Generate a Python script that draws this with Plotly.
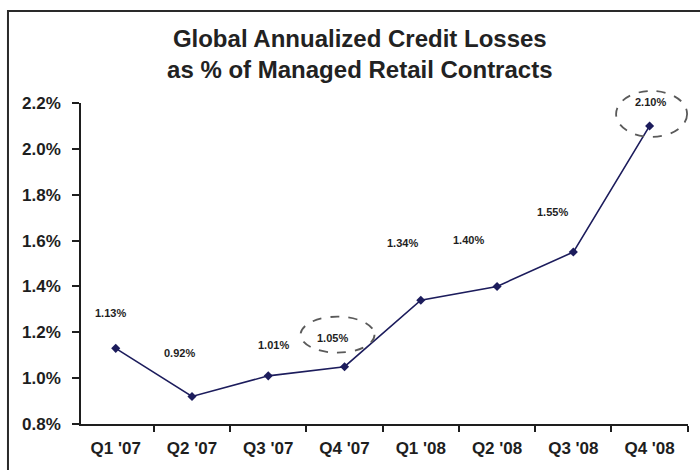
import plotly.graph_objects as go

# Quarterly credit loss rates (% of managed retail contracts)
quarters = ["Q1 '07", "Q2 '07", "Q3 '07", "Q4 '07", "Q1 '08", "Q2 '08", "Q3 '08", "Q4 '08"]
loss_pct = [1.13, 0.92, 1.01, 1.05, 1.34, 1.40, 1.55, 2.10]
y_ticks = [0.8, 1.0, 1.2, 1.4, 1.6, 1.8, 2.0, 2.2]
highlighted = ["Q4 '07", "Q4 '08"]

Y_MIN, Y_MAX = 0.8, 2.2

# pixel offsets of each value label from its point
label_dx = [-5, -12, 5, -12, -18, -29, -21, 1]
label_dy = [35, 43, 31, 29, 57, 46, 40, 24]
# ellipse geometry (pixels relative to the point): cx, cy, w, h
ring_geom = {"Q4 '07": (-7, 32, 74, 36), "Q4 '08": (2, 12, 71, 46)}

FONT = "Liberation Sans, Arial, sans-serif"
NAVY = "#1c1c5c"
INK = "#1e1e1e"

fig = go.Figure()
fig.add_trace(go.Scatter(
    x=quarters, y=loss_pct, mode="lines+markers",
    line=dict(color=NAVY, width=1.6),
    marker=dict(symbol="diamond", size=7, color=NAVY),
    hoverinfo="skip", showlegend=False,
))

for q, v, dx, dy in zip(quarters, loss_pct, label_dx, label_dy):
    fig.add_annotation(
        x=q, y=v, xref="x", yref="y", text=f"{v:.2f}%", showarrow=False,
        xshift=dx, yshift=dy, font=dict(family=FONT, size=11, color=INK, weight="bold"),
    )

# dashed ellipses around the highlighted labels; the vertical anchor is given
# as a fraction of the plot height so the ring may extend above the plot area
for q in highlighted:
    cx, cy, w, h = ring_geom[q]
    i = quarters.index(q)
    fig.add_shape(
        type="circle", xref="x", yref="paper", xsizemode="pixel", ysizemode="pixel",
        xanchor=i, yanchor=(loss_pct[i] - Y_MIN) / (Y_MAX - Y_MIN),
        x0=cx - w / 2, x1=cx + w / 2, y0=cy - h / 2, y1=cy + h / 2,
        line=dict(color="#5a5a5a", width=1.8, dash="dash"),
    )

# frame around the whole chart
fig.add_shape(
    type="rect", xref="paper", yref="paper",
    x0=-0.1203, x1=1.2, y0=-0.5, y1=1.2866,
    line=dict(color="#2a2a2a", width=2),
)

fig.update_layout(
    width=700, height=470,
    margin=dict(l=81, r=12, t=103, b=46),
    paper_bgcolor="white", plot_bgcolor="white",
    title=dict(
        text="Global Annualized Credit Losses<br>as % of Managed Retail Contracts",
        x=0.514, xref="container", xanchor="center",
        y=0.90, yref="container", yanchor="top",
        font=dict(family=FONT, size=24, color="#222222", weight="bold"),
    ),
    xaxis=dict(
        type="category", categoryorder="array", categoryarray=quarters,
        tickson="boundaries", ticks="outside", ticklen=6, tickwidth=1.5, tickcolor=INK,
        showline=True, linecolor=INK, linewidth=1.5, showgrid=False, zeroline=False,
        tickfont=dict(family=FONT, size=17, color=INK, weight="bold"),
        ticklabelstandoff=8,
    ),
    yaxis=dict(
        range=[Y_MIN, Y_MAX], tickvals=y_ticks,
        ticktext=[f"{t:.1f}%" for t in y_ticks],
        ticks="outside", ticklen=7, tickwidth=1.5, tickcolor=INK,
        showline=True, linecolor=INK, linewidth=1.5, showgrid=False, zeroline=False,
        tickfont=dict(family=FONT, size=17, color=INK, weight="bold"),
        ticklabelstandoff=8,
    ),
)

fig.write_html("out.html")
